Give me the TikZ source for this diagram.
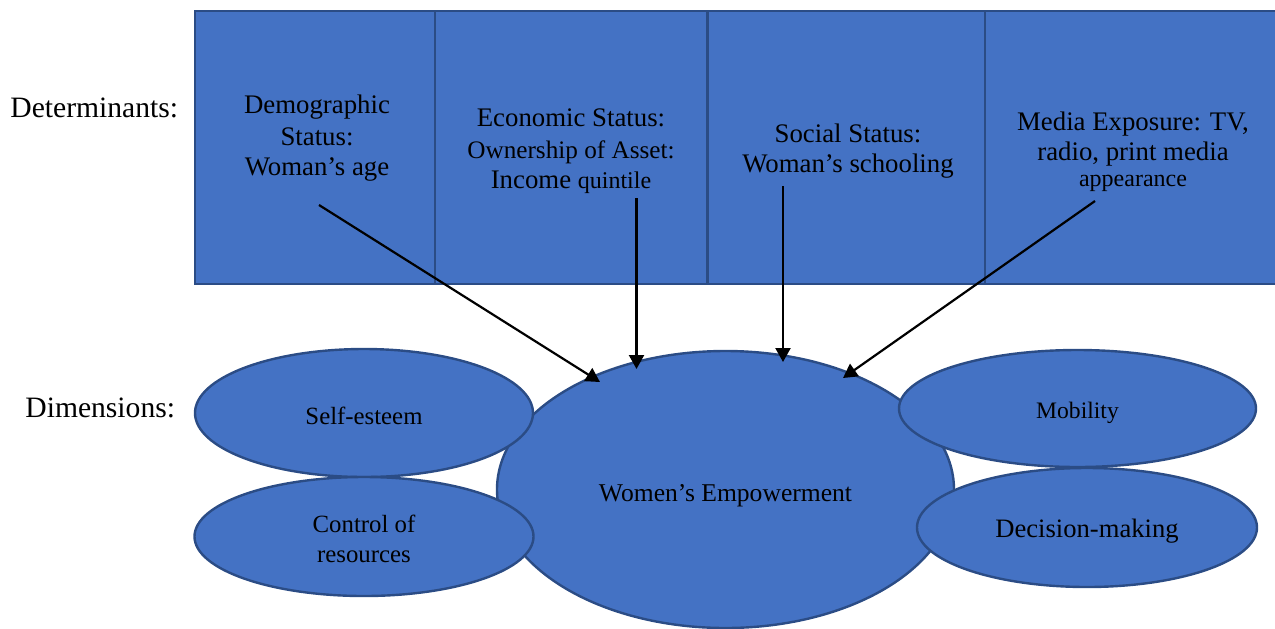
\documentclass[tikz,border=0pt]{standalone}
\usepackage{fontspec}
\setmainfont{Liberation Serif}
\usetikzlibrary{shapes.geometric,arrows.meta}
\definecolor{fillblue}{HTML}{4472C4}
\definecolor{edgeblue}{HTML}{2B4C85}
\begin{document}
\begin{tikzpicture}[x=0.5pt,y=-0.5pt,
  detbox/.style={draw=edgeblue,fill=fillblue,line width=1.25pt,rectangle,inner sep=0pt,minimum height=136.5pt},
  dimell/.style={draw=edgeblue,fill=fillblue,line width=1.2pt,ellipse,inner sep=0pt},
  dimtext/.style={inner sep=0pt,align=center},
  boxtext/.style={align=center,inner sep=0pt,font=\fontsize{13.4pt}{15pt}\selectfont},
  rowlabel/.style={anchor=west,inner sep=0pt,font=\fontsize{14.8pt}{17pt}\selectfont},
  link/.style={-{Triangle[length=7pt,width=7.5pt]},line width=1.1pt,black}]
\useasboundingbox (0,0) rectangle (1275,628);
\clip (0,0) rectangle (1275,628);

% determinant boxes
\node[detbox,minimum width=120pt] (b1) at (315,147.5) {};
\node[detbox,minimum width=136pt] (b2) at (571,147.5) {};
\node[detbox,minimum width=138.5pt] (b3) at (846.5,147.5) {};
\node[detbox,minimum width=150pt] (b4) at (1135,147.5) {};

\node[boxtext] (t1) at (317,138.5) {Demographic\\[1pt]Status:\\Woman’s age};
\node[boxtext] (t2) at (571,151) {Economic Status:\\[1pt]{\fontsize{12.6pt}{15pt}\selectfont Ownership of Asset:}\\Income {\fontsize{12pt}{15pt}\selectfont quintile}};
\node[boxtext] (t3) at (848,151.5) {Social Status:\\Woman’s schooling};
\node[boxtext] (t4) at (1133,152) {Media Exposure: TV,\\radio, print media\\[-2pt]{\fontsize{12pt}{14pt}\selectfont appearance}};

% row labels
\node[rowlabel] (lab1) at (10,108) {Determinants:};
\node[rowlabel] (lab2) at (25,408) {Dimensions:};

% dimensions
\node[dimell,minimum width=228.5pt,minimum height=138.5pt,
  label={[dimtext,yshift=-3pt,font=\fontsize{12.8pt}{15pt}\selectfont]center:Women’s Empowerment}] (we) at (725.5,489.5) {};
\node[dimell,minimum width=169pt,minimum height=64pt,
  label={[dimtext,yshift=-1.5pt,font=\fontsize{12.4pt}{15pt}\selectfont]center:Self-esteem}] (self) at (364,413) {};
\node[dimell,minimum width=169.5pt,minimum height=59.5pt,
  label={[dimtext,yshift=-1pt,font=\fontsize{12.4pt}{15pt}\selectfont]center:Control of\\resources}] (ctrl) at (364,536.5) {};
\node[dimell,minimum width=178.5pt,minimum height=58.5pt,
  label={[dimtext,yshift=-2pt,font=\fontsize{11.8pt}{14pt}\selectfont]center:Mobility}] (mob) at (1077.5,408.5) {};
\node[dimell,minimum width=170pt,minimum height=59.5pt,
  label={[dimtext,yshift=-2pt,font=\fontsize{13.3pt}{15pt}\selectfont]center:Decision-making}] (dec) at (1087,527.5) {};

% arrows
\coordinate (s1) at (319,205);
\coordinate (e1) at (600,382);
\coordinate (s2) at (636.5,198);
\coordinate (e2) at (636.5,369);
\coordinate (s3) at (783,186);
\coordinate (e3) at (783,362);
\coordinate (s4) at (1095,201);
\coordinate (e4) at (843,378);
\draw[link] (s1) -- (e1);
\draw[link] (s2) -- (e2);
\draw[link] (s3) -- (e3);
\draw[link] (s4) -- (e4);
\end{tikzpicture}
\end{document}
